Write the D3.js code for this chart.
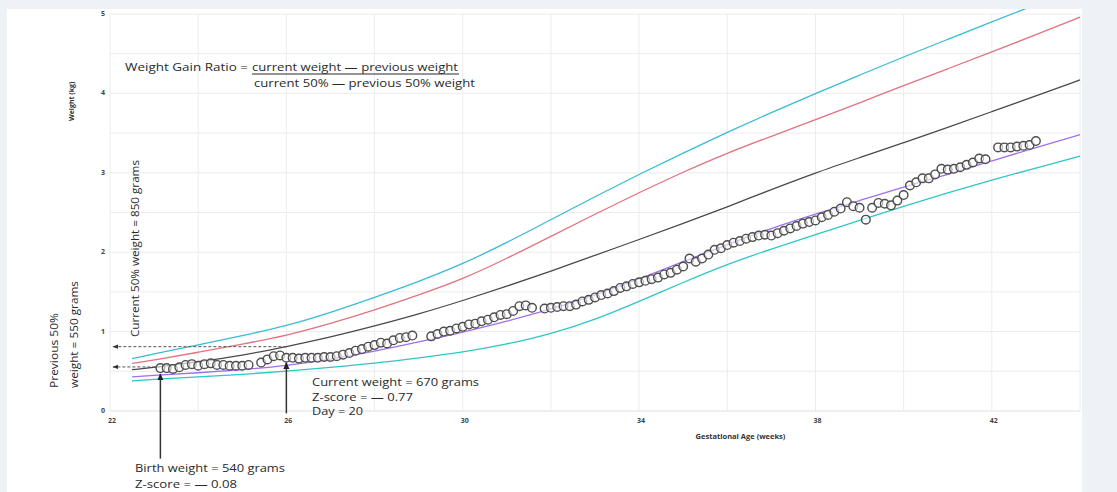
<!DOCTYPE html>
<html>
<head>
<meta charset="utf-8">
<script src="https://cdn.jsdelivr.net/npm/d3@7"></script>
<style>
    body { margin: 0; background: #eef1f6; }
    #chart { width: 1117px; height: 492px; }
    text { font-family: "Open Sans", sans-serif; }
</style>
</head>
<body>
<div id="chart"></div>
<script>

// percentile reference curves (weeks -> kg)
const curveWeeks = [22.5, 23, 24, 25, 26, 27, 28, 29, 30, 31, 32, 33, 34, 35, 36, 37, 38, 39, 40, 41, 42, 43, 44];
const p97 = [0.66, 0.72, 0.83, 0.95, 1.07, 1.24, 1.43, 1.63, 1.85, 2.12, 2.41, 2.70, 2.98, 3.25, 3.51, 3.76, 4.00, 4.23, 4.46, 4.68, 4.90, 5.12, 5.33];
const p90 = [0.60, 0.64, 0.74, 0.84, 0.95, 1.10, 1.27, 1.46, 1.66, 1.92, 2.20, 2.48, 2.75, 3.01, 3.25, 3.46, 3.67, 3.88, 4.10, 4.31, 4.52, 4.74, 4.96];
const p50 = [0.52, 0.55, 0.62, 0.70, 0.81, 0.93, 1.07, 1.22, 1.39, 1.57, 1.76, 1.96, 2.16, 2.36, 2.57, 2.79, 3.00, 3.19, 3.38, 3.57, 3.77, 3.97, 4.17];
const p10 = [0.43, 0.45, 0.48, 0.52, 0.57, 0.65, 0.75, 0.87, 0.99, 1.13, 1.28, 1.46, 1.66, 1.88, 2.10, 2.30, 2.48, 2.65, 2.82, 2.98, 3.15, 3.32, 3.48];
const p3  = [0.38, 0.40, 0.43, 0.46, 0.50, 0.55, 0.60, 0.67, 0.74, 0.84, 0.97, 1.15, 1.38, 1.62, 1.85, 2.04, 2.22, 2.40, 2.58, 2.75, 2.91, 3.06, 3.21];

// infant's daily weights (kg) from birth, null = no measurement
const birthWeek = 23 + 1 / 7;
const dailyKg = [
    0.54, 0.54, 0.53, 0.55, 0.58, 0.59, 0.57, 0.59, 0.60, 0.58, 0.58, 0.57, 0.57, 0.57, 0.58,
    null,
    0.61, 0.65, 0.69, 0.70, 0.67,
    0.67, 0.66, 0.67, 0.67, 0.67, 0.68, 0.68, 0.69,
    0.71, 0.73, 0.76, 0.78, 0.81, 0.83, 0.86, 0.85, 0.89, 0.92, 0.93, 0.95,
    null, null,
    0.94, 0.97, 1.00, 1.01, 1.04, 1.06, 1.09, 1.10, 1.13, 1.15, 1.18, 1.21, 1.22, 1.26, 1.32, 1.33, 1.30,
    null,
    1.29,
    1.30, 1.31, 1.32, 1.32, 1.34, 1.38, 1.40, 1.43, 1.46, 1.48, 1.51, 1.55, 1.57, 1.60, 1.62, 1.64,
    1.66, 1.68, 1.72, 1.74, 1.78, 1.82, 1.92, 1.88, 1.92, 1.97, 2.03, 2.05, 2.09, 2.12, 2.14, 2.17,
    2.19, 2.21, 2.22, 2.21, 2.24, 2.27, 2.30, 2.33, 2.36, 2.38, 2.40, 2.44, 2.47, 2.51, 2.55, 2.63,
    2.58, 2.56, 2.41, 2.56, 2.62, 2.61, 2.59, 2.65, 2.72, 2.84, 2.88, 2.93, 2.93, 2.98, 3.05, 3.04,
    3.05, 3.07, 3.10, 3.13, 3.18, 3.17, null, 3.32, 3.32, 3.32, 3.33, 3.34, 3.35, 3.40
];

const xTicks = [22, 26, 30, 34, 38, 42];
const yTicks = [0, 1, 2, 3, 4, 5];

// annotation values
const currentDay = 20;
const prev50Kg = 0.555;
const cur50Kg = 0.81;


class GrowthChart {

    constructor(parentElement) {
        this.parentElement = parentElement;
        this.initVis();
    }

    initVis() {
        let vis = this;

        vis.width = 1117;
        vis.height = 492;

        vis.svg = d3.select("#" + vis.parentElement).append("svg")
            .attr("width", vis.width)
            .attr("height", vis.height);

        // white plot panel
        vis.svg.append("rect")
            .attr("x", 7).attr("y", 9)
            .attr("width", 1075).attr("height", 483)
            .attr("fill", "#ffffff");

        vis.svg.append("clipPath").attr("id", "panel-clip")
            .append("rect")
            .attr("x", 7).attr("y", 9)
            .attr("width", 1075).attr("height", 483);

        let defs = vis.svg.append("defs");
        defs.append("marker")
            .attr("id", "arrow")
            .attr("viewBox", "0 -4 8 8")
            .attr("refX", 7).attr("refY", 0)
            .attr("markerWidth", 7).attr("markerHeight", 7)
            .attr("markerUnits", "userSpaceOnUse")
            .attr("orient", "auto")
            .append("path")
            .attr("d", "M0,-3.5L8,0L0,3.5Z")
            .attr("fill", "#222");
        defs.append("marker")
            .attr("id", "arrow-small")
            .attr("viewBox", "0 -4 8 8")
            .attr("refX", 7).attr("refY", 0)
            .attr("markerWidth", 6).attr("markerHeight", 6)
            .attr("markerUnits", "userSpaceOnUse")
            .attr("orient", "auto")
            .append("path")
            .attr("d", "M0,-3L8,0L0,3Z")
            .attr("fill", "#333");

        vis.xScale = d3.scaleLinear().domain([22, 44]).range([110, 1080]);
        vis.yScale = d3.scaleLinear().domain([0, 5]).range([411, 14]);

        vis.wrangleData();
    }

    wrangleData() {
        let vis = this;

        vis.curves = [
            {name: "p97", color: "#38bcd6", values: p97},
            {name: "p90", color: "#e2727f", values: p90},
            {name: "p50", color: "#4a4a4a", values: p50},
            {name: "p10", color: "#a070ec", values: p10},
            {name: "p3",  color: "#2ec6c6", values: p3}
        ].map(c => ({
            name: c.name,
            color: c.color,
            points: curveWeeks.map((w, i) => ({week: w, kg: c.values[i]}))
        }));

        vis.points = [];
        dailyKg.forEach((kg, day) => {
            if (kg !== null) vis.points.push({week: birthWeek + day / 7, kg: kg, day: day});
        });

        vis.updateVis();
    }

    updateVis() {
        let vis = this;
        let x = vis.xScale, y = vis.yScale;

        // grid
        let grid = vis.svg.append("g").attr("class", "grid");
        grid.selectAll(".vgrid")
            .data(d3.range(22, 44.1, 2))
            .enter().append("line")
            .attr("x1", d => x(d)).attr("x2", d => x(d))
            .attr("y1", y(5)).attr("y2", y(0))
            .attr("stroke", "#ececec").attr("stroke-width", 1);
        grid.selectAll(".hgrid")
            .data(d3.range(0, 5.01, 0.5))
            .enter().append("line")
            .attr("x1", x(22)).attr("x2", x(44))
            .attr("y1", d => y(d)).attr("y2", d => y(d))
            .attr("stroke", d => d === 0 ? "#e0e0e0" : "#ececec").attr("stroke-width", 1);

        // tick labels
        vis.svg.append("g")
            .selectAll("text")
            .data(xTicks)
            .enter().append("text")
            .attr("x", d => x(d) + 2)
            .attr("y", y(0) + 12)
            .attr("text-anchor", "middle")
            .attr("font-size", 7)
            .attr("font-weight", "bold")
            .attr("fill", "#444")
            .text(d => d);

        vis.svg.append("g")
            .selectAll("text")
            .data(yTicks)
            .enter().append("text")
            .attr("x", x(22) - 5)
            .attr("y", d => y(d) + 2)
            .attr("text-anchor", "end")
            .attr("font-size", 7)
            .attr("font-weight", "bold")
            .attr("fill", "#444")
            .text(d => d);

        // axis titles
        vis.svg.append("text")
            .attr("transform", `translate(74, ${y(3.9)}) rotate(-90)`)
            .attr("text-anchor", "middle")
            .attr("font-size", 7)
            .attr("font-weight", "bold")
            .attr("fill", "#333")
            .text("Weight (kg)");

        vis.svg.append("text")
            .attr("x", x(36.3))
            .attr("y", 439)
            .attr("text-anchor", "middle")
            .attr("font-size", 7.5)
            .attr("font-weight", "bold")
            .attr("fill", "#333")
            .text("Gestational Age (weeks)");

        // percentile curves
        let line = d3.line()
            .x(d => x(d.week))
            .y(d => y(d.kg))
            .curve(d3.curveBasis);

        vis.svg.append("g")
            .attr("clip-path", "url(#panel-clip)")
            .selectAll("path")
            .data(vis.curves)
            .enter().append("path")
            .attr("d", d => line(d.points))
            .attr("fill", "none")
            .attr("stroke", d => d.color)
            .attr("stroke-width", 1.3);

        // dashed reference arrows to the y axis
        let birthP50 = {week: birthWeek, kg: prev50Kg};
        let curP50 = {week: birthWeek + currentDay / 7, kg: cur50Kg};
        vis.svg.append("g")
            .selectAll("line")
            .data([birthP50, curP50])
            .enter().append("line")
            .attr("x1", d => x(d.week))
            .attr("x2", x(22.07))
            .attr("y1", d => y(d.kg))
            .attr("y2", d => y(d.kg))
            .attr("stroke", "#555")
            .attr("stroke-width", 1)
            .attr("stroke-dasharray", "3,2")
            .attr("marker-end", "url(#arrow-small)");

        // data points
        vis.svg.append("g")
            .selectAll("circle")
            .data(vis.points)
            .enter().append("circle")
            .attr("cx", d => x(d.week))
            .attr("cy", d => y(d.kg))
            .attr("r", 4.3)
            .attr("fill", "#ffffff")
            .attr("fill-opacity", 0.6)
            .attr("stroke", "#4d4d4d")
            .attr("stroke-width", 1.4);

        // vertical arrows to birth and current point
        let birthPt = vis.points[0];
        let curPt = vis.points.find(p => p.day === currentDay);
        vis.svg.append("line")
            .attr("x1", x(birthPt.week)).attr("x2", x(birthPt.week))
            .attr("y1", y(-0.6)).attr("y2", y(birthPt.kg) + 6)
            .attr("stroke", "#333").attr("stroke-width", 1.5)
            .attr("marker-end", "url(#arrow)");
        vis.svg.append("line")
            .attr("x1", x(curPt.week)).attr("x2", x(curPt.week))
            .attr("y1", y(-0.03)).attr("y2", y(curPt.kg) + 5)
            .attr("stroke", "#333").attr("stroke-width", 1.5)
            .attr("marker-end", "url(#arrow)");

        // annotation texts, stretched to the widths they have in the figure
        let note = vis.svg.append("g").attr("fill", "#2a2a2a");
        let addText = (g, x0, y0, str, size, len, rotate) => {
            let t = g.append("text")
                .attr("font-size", size)
                .attr("textLength", len)
                .attr("lengthAdjust", "spacingAndGlyphs")
                .text(str);
            if (rotate) t.attr("transform", `translate(${x0}, ${y0}) rotate(-90)`);
            else t.attr("x", x0).attr("y", y0);
            return t;
        };

        addText(note, 125, 71, "Weight  Gain Ratio =", 11.5, 123);
        addText(note, 252, 71, "current weight \u2014 previous weight", 11.5, 206);
        note.append("line")
            .attr("x1", 252).attr("x2", 459).attr("y1", 74).attr("y2", 74)
            .attr("stroke", "#2a2a2a").attr("stroke-width", 1);
        addText(note, 254, 87, "current 50% \u2014 previous 50% weight", 11.5, 221);

        addText(note, 312, 386, "Current weight = 670 grams", 10.5, 167);
        addText(note, 312, 400.5, "Z-score = \u2014 0.77", 10.5, 101);
        addText(note, 312, 415, "Day = 20", 10.5, 51);

        addText(note, 135, 472, "Birth weight = 540 grams", 11.5, 150);
        addText(note, 135, 488, "Z-score = \u2014 0.08", 11.5, 102);

        addText(note, 139, 337, "Current 50% weight = 850 grams", 11.5, 177, true);
        addText(note, 58, 388, "Previous 50%", 11.5, 75, true);
        addText(note, 78, 388, "weight = 550 grams", 11.5, 107, true);
    }
}

new GrowthChart("chart");

</script>
</body>
</html>
